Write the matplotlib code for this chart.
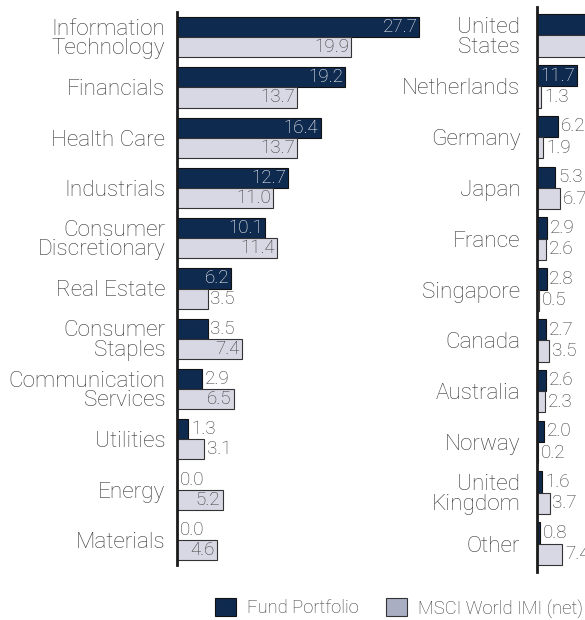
import matplotlib
matplotlib.use("Agg")
import matplotlib.pyplot as plt
from matplotlib.patches import Patch

sectors = ["Information\nTechnology", "Financials", "Health Care", "Industrials",
           "Consumer\nDiscretionary", "Real Estate", "Consumer\nStaples",
           "Communication\nServices", "Utilities", "Energy", "Materials"]
sector_fund = [27.7, 19.2, 16.4, 12.7, 10.1, 6.2, 3.5, 2.9, 1.3, 0.0, 0.0]
sector_msci = [19.9, 13.7, 13.7, 11.0, 11.4, 3.5, 7.4, 6.5, 3.1, 5.2, 4.6]

countries = ["United\nStates", "Netherlands", "Germany", "Japan", "France",
             "Singapore", "Canada", "Australia", "Norway", "United\nKingdom", "Other"]
country_fund = [61.4, 11.7, 6.2, 5.3, 2.9, 2.8, 2.7, 2.6, 2.0, 1.6, 0.8]
country_msci = [69.9, 1.3, 1.9, 6.7, 2.6, 0.5, 3.5, 2.3, 0.2, 3.7, 7.4]

series_names = ["Fund Portfolio", "MSCI World IMI (net)"]

DARK = "#0f2a4f"
LIGHT = "#d8d8e4"
LEG_LIGHT = "#a9aec3"
TXT = "#383838"
FONT = "Roboto"
WEIGHT = "light"

plt.rcParams['font.family'] = [FONT, 'DejaVu Sans']

fig = plt.figure(figsize=(5.85, 6.2), dpi=100)
W, H = 585, 620


def panel(rect, cats, fund, msci, xmax, bh, ylim_pad, pad):
    ax = fig.add_axes(rect)
    n = len(cats)
    ys = list(range(n))
    ax.barh([y - bh / 2 for y in ys], fund, height=bh, color=DARK,
            edgecolor="#111111", linewidth=0.8)
    ax.barh([y + bh / 2 for y in ys], msci, height=bh, color=LIGHT,
            edgecolor="#333333", linewidth=0.8)
    ax.set_xlim(0, xmax)
    ax.set_ylim(n - 1 + ylim_pad, -ylim_pad)
    ax.set_yticks(ys)
    ax.set_yticklabels(cats, fontsize=16.2, color=TXT, fontweight=WEIGHT,
                       linespacing=0.92)
    ax.tick_params(axis="y", length=0, pad=pad)
    ax.set_xticks([])
    for s in ["top", "right", "bottom"]:
        ax.spines[s].set_visible(False)
    ax.spines["left"].set_linewidth(2)
    ax.spines["left"].set_color("#1a1a1a")
    ax.spines["left"].set_zorder(5)
    pxu = rect[2] * W / xmax
    for vals, offs, incol in ((fund, -bh / 2, "white"), (msci, bh / 2, TXT)):
        for y, v in zip(ys, vals):
            if v * pxu > 35:
                ax.annotate(f"{v:.1f}", (v, y + offs), xytext=(-1.5, 0),
                            textcoords="offset points", ha="right", va="center",
                            fontsize=13.5, color=incol, fontweight=WEIGHT,
                            annotation_clip=False)
            else:
                ax.annotate(f"{v:.1f}", (v, y + offs), xytext=(2, 0),
                            textcoords="offset points", ha="left", va="center",
                            fontsize=13.5, color=TXT, fontweight=WEIGHT,
                            annotation_clip=False)
    return ax


panel([177 / W, 55 / H, 262.5 / W, 553 / H], sectors, sector_fund, sector_msci,
      30, 0.40, 0.5, 8.5)
panel([537 / W, 48 / H, 80 * 3.42 / W, 565 / H], countries, country_fund, country_msci,
      80, 0.42, 0.56, 12)

handles = [Patch(facecolor=DARK, edgecolor="#111111", linewidth=0.8),
           Patch(facecolor=LEG_LIGHT, edgecolor="#333333", linewidth=0.8)]
leg = fig.legend(handles, series_names, loc="center", bbox_to_anchor=(399 / W, 12 / H),
                 ncol=2, frameon=False, handlelength=1.1, handleheight=1.1,
                 handletextpad=0.6, columnspacing=1.5, borderpad=0.2,
                 prop={"size": 13.3, "weight": WEIGHT})
for t in leg.get_texts():
    t.set_color(TXT)

fig.savefig("out.png", dpi=100)
